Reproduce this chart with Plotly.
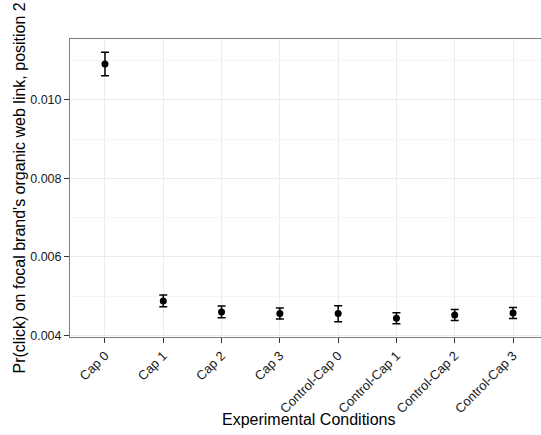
import plotly.graph_objects as go

categories = ["Cap 0", "Cap 1", "Cap 2", "Cap 3",
              "Control-Cap 0", "Control-Cap 1", "Control-Cap 2", "Control-Cap 3"]
means = [0.01091, 0.00488, 0.00460, 0.00456, 0.00456, 0.00444, 0.00452, 0.00457]
err_hi = [0.00030, 0.00015, 0.00015, 0.00014, 0.00020, 0.00014, 0.00014, 0.00014]
err_lo = [0.00030, 0.00015, 0.00015, 0.00014, 0.00021, 0.00014, 0.00014, 0.00014]
y_ticks = [0.004, 0.006, 0.008, 0.010]
y_ticktext = ["0.004", "0.006", "0.008", "0.010"]

FONT = "Liberation Sans, Arial, Helvetica, sans-serif"
# The original panel runs past the right edge of the 541 px image; draw it
# slightly wider and let the window crop it the same way.
W, H = 548, 435
L, R, T, B = 70, 0, 39, 98
pw = W - L - R
ph = H - T - B

fig = go.Figure()
fig.add_trace(go.Scatter(
    x=categories, y=means, mode="markers",
    marker=dict(color="black", size=7),
    error_y=dict(type="data", symmetric=False, array=err_hi, arrayminus=err_lo,
                 color="black", thickness=1.5, width=4),
    showlegend=False,
))

fig.update_layout(
    width=W, height=H,
    margin=dict(l=L, r=R, t=T, b=B, pad=0),
    paper_bgcolor="white", plot_bgcolor="white",
    font=dict(family=FONT, color="#1a1a1a"),
    xaxis=dict(
        type="category", range=[-0.6, 7.6],
        showgrid=True, gridcolor="#ebebeb", gridwidth=1,
        showline=True, linecolor="#7f7f7f", linewidth=1, mirror=True,
        ticks="outside", ticklen=5, tickcolor="#333333", tickwidth=1,
        tickangle=-45, tickfont=dict(size=13, family=FONT, color="#1a1a1a"),
        zeroline=False,
    ),
    yaxis=dict(
        range=[0.003962, 0.011545],
        tickvals=y_ticks, ticktext=y_ticktext,
        showgrid=True, gridcolor="#ebebeb", gridwidth=1,
        minor=dict(dtick=0.001, tick0=0.004, showgrid=True, gridcolor="#f5f5f5", ticklen=0),
        showline=True, linecolor="#7f7f7f", linewidth=1, mirror=False,
        ticks="outside", ticklen=5, tickcolor="#333333", tickwidth=1,
        tickfont=dict(size=12.5, family=FONT, color="#1a1a1a"),
        zeroline=False,
    ),
    annotations=[
        dict(text="Pr(click) on focal brand's organic web link, position 2",
             xref="paper", yref="paper",
             x=(18.5 - L) / pw, y=0.5, xanchor="center", yanchor="middle",
             textangle=-90, showarrow=False,
             font=dict(size=16, family=FONT, color="black")),
        dict(text="Experimental Conditions",
             xref="paper", yref="paper",
             x=(308 - L) / pw, y=(T + ph - 419) / ph, xanchor="center", yanchor="middle",
             showarrow=False,
             font=dict(size=16, family=FONT, color="black")),
    ],
)

fig.write_html(
    "out.html",
    config={"displayModeBar": False},
    post_script="document.body.style.margin='0';document.body.style.overflow='hidden';",
)
